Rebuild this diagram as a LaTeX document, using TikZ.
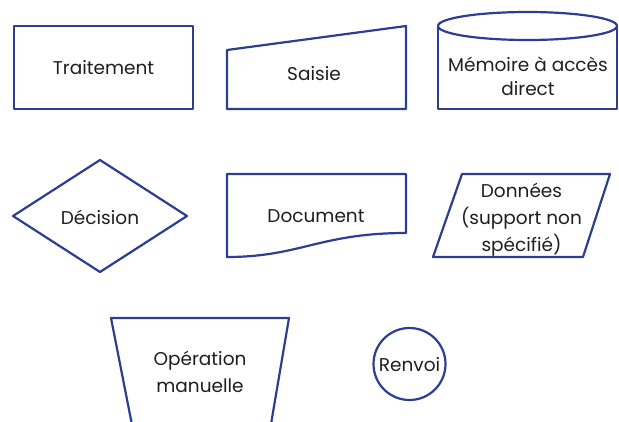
\documentclass[tikz,border=0pt]{standalone}
\usepackage{fontspec}
\setmainfont{Poppins}
\usepackage{tikz}

\definecolor{symbolblue}{RGB}{44,62,146}
\definecolor{labelgray}{RGB}{30,30,30}

\begin{document}
\begin{tikzpicture}[x=1pt,y=-1pt,
		symbol/.style={draw=symbolblue,line width=2.2pt,line join=round}]
		\useasboundingbox (0,0) rectangle (619,421);
		\clip (0,0) rectangle (619,421);

		% outlines of the flowchart symbols
		\draw[symbol] (14,26) rectangle (193,109);
		\draw[symbol] (227,50) -- (406,26) -- (406,109) -- (227,109) -- cycle;
		\draw[symbol] (438,26) -- (438,109) -- (617,109) -- (617,26);
		\draw[symbol] (527.5,26) ellipse [x radius=89.5,y radius=14];
		\draw[symbol] (13,216) -- (100,160) -- (187,216) -- (100,272) -- cycle;
		\draw[symbol] (227,257) -- (227,174) -- (406,174) -- (406,233)
			.. controls (320,233) and (300,257) .. (227,257) -- cycle;
		\draw[symbol] (462,174) -- (610,174) -- (583,257) -- (433,257) -- cycle;
		\draw[symbol] (133,430) -- (111,318) -- (289,318) -- (270,430);
		\draw[symbol] (409.5,364) circle [radius=36];

		\begin{scope}[every node/.style={text=labelgray,align=center,inner sep=0pt,
				font=\fontsize{18.5}{27}\selectfont}]
			\node (trait) at (103.5,68) {Traitement};
			\node (saisie) at (314,74) {Saisie};
			\node (memoire) at (528,76) {Mémoire à accès\\[-3pt]direct};
			\node (decision) at (100,217) {Décision};
			\node (document) at (316,216) {Document};
			\node (donnees) at (521.5,220) {Données\\(support non\\spécifié)};
			\node (manuelle) at (200,372) {Opération\\manuelle};
			\node (renvoi) at (409.5,365) {Renvoi};
		\end{scope}
	\end{tikzpicture}
\end{document}
